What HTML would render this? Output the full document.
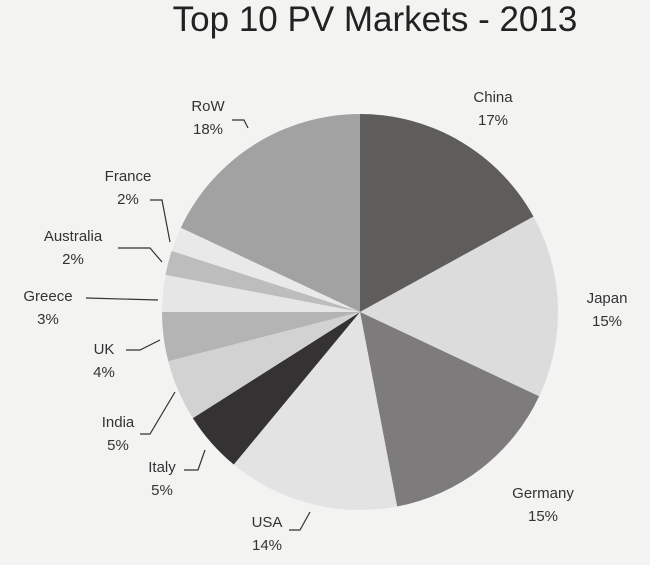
<!DOCTYPE html>
<html><head><meta charset="utf-8"><style>
body{margin:0;width:650px;height:565px;background:#f3f3f1;overflow:hidden;font-family:"Liberation Sans",sans-serif;}
.t{position:absolute;font-size:15px;color:#333;text-align:center;line-height:23px}
</style></head><body>
<div style="position:absolute;left:0;width:750px;top:0px;text-align:center;font-size:35px;color:#222">Top 10 PV Markets - 2013</div>
<svg id="s" width="650" height="565" style="position:absolute;left:0;top:0"></svg>
<div class="t" style="left:473px;top:86px;width:40px">China<br>17%</div>
<div class="t" style="left:584px;top:287px;width:46px">Japan<br>15%</div>
<div class="t" style="left:498px;top:482px;width:90px">Germany<br>15%</div>
<div class="t" style="left:245px;top:511px;width:44px">USA<br>14%</div>
<div class="t" style="left:140px;top:456px;width:44px">Italy<br>5%</div>
<div class="t" style="left:96px;top:411px;width:44px">India<br>5%</div>
<div class="t" style="left:82px;top:338px;width:44px">UK<br>4%</div>
<div class="t" style="left:10px;top:285px;width:76px">Greece<br>3%</div>
<div class="t" style="left:28px;top:225px;width:90px">Australia<br>2%</div>
<div class="t" style="left:90px;top:165px;width:76px">France<br>2%</div>
<div class="t" style="left:184px;top:95px;width:48px">RoW<br>18%</div>
<script>
var d=[[17,'#5f5c5c'],[15,'#dcdcdc'],[15,'#7d7b7b'],[14,'#e3e3e3'],[5,'#353233'],[5,'#d2d2d2'],[4,'#b4b4b4'],[3,'#e6e6e6'],[2,'#bdbdbd'],[2,'#e9e9e9'],[18,'#a2a2a2']];
var cx=360,cy=312,r=198,a=0,h='';
d.forEach(function(e){var a0=a/100*2*Math.PI;a+=e[0];var a1=a/100*2*Math.PI;
h+='<path fill="'+e[1]+'" d="M'+cx+','+cy+'L'+(cx+r*Math.sin(a0))+','+(cy-r*Math.cos(a0))+'A'+r+','+r+' 0 '+(e[0]>50?1:0)+' 1 '+(cx+r*Math.sin(a1))+','+(cy-r*Math.cos(a1))+'Z"/>';});
h+='<g stroke="#333" fill="none" stroke-width="1.2"><polyline points="232,120 244,120 248,128"/><polyline points="150,200 162,200 170,242"/><polyline points="118,248 150,248 162,262"/><polyline points="86,298 158,300"/><polyline points="126,350 140,350 160,340"/><polyline points="140,434 150,434 175,392"/><polyline points="184,470 198,470 205,450"/><polyline points="289,530 300,530 310,512"/></g>';
document.getElementById('s').innerHTML=h;
</script>
</body></html>
